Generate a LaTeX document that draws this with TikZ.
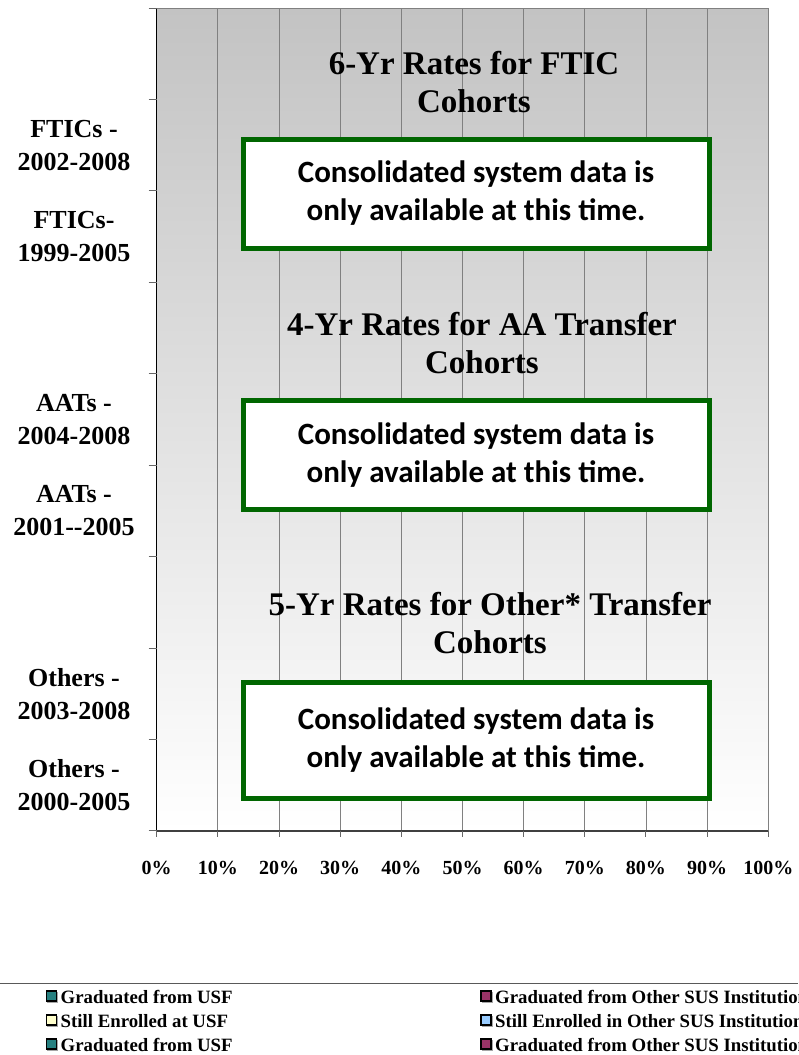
\documentclass[tikz,border=0pt]{standalone}
\usepackage{fontspec}
\setmainfont{Liberation Serif}
\newfontfamily\calfont{Carlito}
\definecolor{plottop}{RGB}{195,195,195}
\definecolor{notegreen}{RGB}{0,102,0}
\definecolor{gridgray}{RGB}{128,128,128}
\definecolor{usfteal}{RGB}{38,128,128}
\definecolor{paleyellow}{RGB}{255,255,204}
\definecolor{plum}{RGB}{153,51,102}
\definecolor{skyblue}{RGB}{153,204,255}
\begin{document}
\begin{tikzpicture}[x=1pt,y=-1pt,
  gridline/.style={draw=gridgray,line width=0.8pt},
  notebox/.style={draw=notegreen,line width=5pt,fill=white,minimum width=466pt,
    minimum height=109pt,inner sep=0pt,align=center,
    font=\calfont\bfseries\fontsize{31}{38}\selectfont},
  heading/.style={align=center,inner sep=0pt,font=\bfseries\fontsize{33}{38}\selectfont},
  cohort/.style={align=center,inner sep=0pt,font=\bfseries\fontsize{26}{33}\selectfont},
  pct/.style={anchor=base,inner sep=0pt,font=\bfseries\fontsize{20}{24}\selectfont},
  key/.style={draw=black,line width=1.4pt,minimum size=10pt,inner sep=0pt},
  keyshade/.style={fill=black!35,minimum size=11pt,inner sep=0pt},
  keytext/.style={anchor=base west,inner sep=0pt,font=\bfseries\fontsize{18.8}{22}\selectfont}]

\useasboundingbox (0,0) rectangle (798,1055);

% plot area with vertical gradient
\shade[top color=plottop,bottom color=white] (156.7,8) rectangle (768.3,831);
\foreach \i in {1,...,9}
  \draw[gridline] ({156.7+61.16*\i},8) -- ({156.7+61.16*\i},831);
\draw[gridgray,line width=1pt] (156.7,8) -- (768.3,8) -- (768.3,831);

% axes and ticks
\draw[black,line width=1.3pt] (156.7,8) -- (156.7,831);
\draw[black!75,line width=1.3pt] (156.7,831) -- (768.3,831);
\foreach \j in {0,...,9}
  \draw[black!60,line width=1pt] (148.5,{8+91.44*\j}) -- (156.7,{8+91.44*\j});
\foreach \i [evaluate=\i as \p using int(10*\i)] in {0,...,10} {
  \draw[black!60,line width=1pt] ({156.7+61.16*\i},831) -- ({156.7+61.16*\i},837);
  \node[pct] (pct\i) at ({156.7+61.16*\i},874) {\p\%};
}

% section headings
\node[heading] (head1) at (474,82) {6-Yr Rates for FTIC\\Cohorts};
\node[heading] (head2) at (482,343) {4-Yr Rates for AA Transfer\\Cohorts};
\node[heading] (head3) at (490,623) {5-Yr Rates for Other* Transfer\\Cohorts};

% notice boxes
\node[notebox] (note1) at (476,193.5) {Consolidated system data is\\only available at this time.};
\node[notebox] (note2) at (476,455) {Consolidated system data is\\only available at this time.};
\node[notebox,minimum height=116pt] (note3) at (476,740) {Consolidated system data is\\only available at this time.};

% cohort labels
\node[cohort] (c1) at (74,146) {FTICs -\\2002-2008};
\node[cohort] (c2) at (74,237) {FTICs-\\1999-2005};
\node[cohort] (c3) at (74,420) {AATs -\\2004-2008};
\node[cohort] (c4) at (74,511) {AATs -\\2001-{}-2005};
\node[cohort] (c5) at (74,694) {Others -\\2003-2008};
\node[cohort] (c6) at (74,785) {Others -\\2000-2005};

% legend
\draw[black!65,line width=1pt] (0,983) -- (798,983);
\begin{scope}
\clip (0,0) rectangle (798,1055);
\foreach \x/\y in {51.5/996,51.5/1020,51.5/1044,486/996,486/1020,486/1044}
  \node[keyshade] (sh-\x-\y) at (\x+1,\y+1) {};
\node[key,fill=usfteal] (k1) at (51.5,996) {};
\node[keytext] (t1) at (60.5,1003) {Graduated from USF};
\node[key,fill=paleyellow] (k2) at (51.5,1020) {};
\node[keytext] (t2) at (60.5,1027) {Still Enrolled at USF};
\node[key,fill=usfteal] (k3) at (51.5,1044) {};
\node[keytext] (t3) at (60.5,1051) {Graduated from USF};
\node[key,fill=plum] (k4) at (486,996) {};
\node[keytext] (t4) at (495,1003) {Graduated from Other SUS Institution};
\node[key,fill=skyblue] (k5) at (486,1020) {};
\node[keytext] (t5) at (495,1027) {Still Enrolled in Other SUS Institution};
\node[key,fill=plum] (k6) at (486,1044) {};
\node[keytext] (t6) at (495,1051) {Graduated from Other SUS Institution};
\end{scope}
\end{tikzpicture}
\end{document}
